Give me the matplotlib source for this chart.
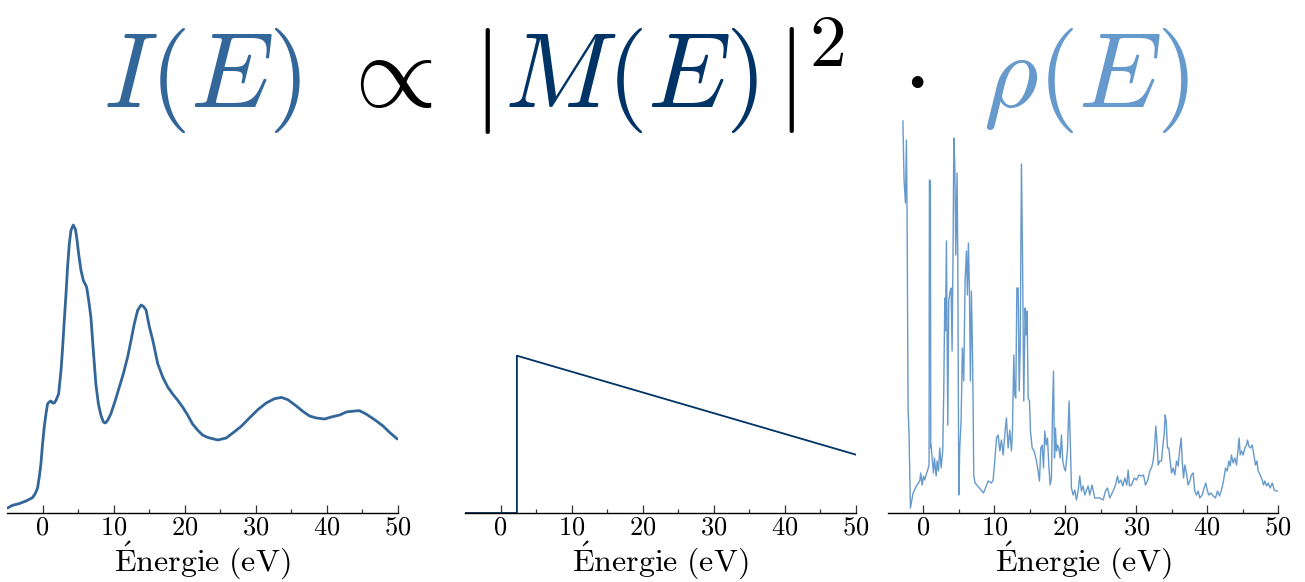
import matplotlib
matplotlib.use("Agg")
import matplotlib.pyplot as plt

plt.rcParams['font.family'] = 'serif'
plt.rcParams['font.serif'] = ['cmr10']
plt.rcParams['mathtext.fontset'] = 'cm'
plt.rcParams['axes.formatter.use_mathtext'] = True

# ---- data (arbitrary units) ----
E_I = [-4.93, -4.22, -3.28, -2.33, -1.4, -1.03, -0.7, -0.46, -0.23, 0.0, 0.24, 0.48, 0.7,
       0.94, 1.18, 1.42, 1.65, 1.89, 2.26, 2.6, 2.8, 3.06, 3.3, 3.52, 3.76, 4.0, 4.32,
       4.61, 4.8, 5.08, 5.4, 5.73, 6.2, 6.49, 6.8, 7.14, 7.5, 7.85, 8.2, 8.55, 8.83,
       9.16, 9.6, 10.24, 10.8, 11.37, 11.97, 12.45, 12.9, 13.38, 13.86, 14.18, 14.56,
       15.03, 15.5, 16.2, 16.9, 17.61, 18.3, 19.02, 19.7, 20.43, 21.1, 21.84, 22.5,
       23.25, 24.65, 25.83, 26.76, 27.94, 29.1, 30.28, 31.46, 32.63, 33.6, 34.5, 35.7,
       36.62, 37.56, 38.5, 39.7, 40.61, 41.8, 42.72, 43.9, 44.6, 45.5, 46.71, 47.9,
       48.82, 49.9]
I_vals = [5, 7.7, 9.4, 12, 15.4, 19.4, 25, 36, 49, 69, 86, 99, 109,
          111, 112, 110, 110, 112.7, 119, 142.7, 163, 192.7, 219, 246, 269, 282.7, 288,
          284, 276, 259, 243, 232.7, 226, 212.7, 196, 162.7, 129, 109.4, 98, 91, 90,
          92.7, 99, 112.7, 126, 139.4, 156, 172.7, 189, 202.7, 208, 206.7, 203,
          186, 173, 149.4, 136, 126, 119, 112.7, 106, 97.7, 89, 82.7, 78,
          75.5, 73, 75, 80, 86.6, 95, 103.3, 110, 114.3, 115.6, 113.3, 107,
          101.6, 97, 95, 94, 96, 98, 101, 102, 102.3, 99, 93.3, 87,
          80.6, 74]

E_M = [-5, 2.3, 2.3, 50]
M_vals = [0, 0, 157.3, 58.3]

E_rho = [-2.9, -2.73, -2.54, -2.40, -2.31, -2.17, -2.03, -1.84, -1.46, -0.99, -0.52, -0.38,
         -0.19, 0.0, 0.18, 0.37, 0.56, 0.79, 0.84, 0.98, 1.03, 1.08, 1.22, 1.41, 1.55,
         1.79, 1.93, 2.11, 2.30, 2.49, 2.72, 2.87, 3.01, 3.10, 3.24, 3.43, 3.57, 3.76,
         3.90, 4.04, 4.18, 4.28, 4.42, 4.56, 4.74, 4.84, 4.98, 5.12, 5.31, 5.49, 5.68,
         5.87, 6.06, 6.20, 6.34, 6.48, 6.62, 6.76, 6.90, 7.00, 7.09, 7.28, 7.89, 8.46,
         8.65, 9.12, 9.59, 9.82, 10.06, 10.3, 10.53, 10.77, 11.0, 11.24, 11.47, 11.7,
         11.94, 12.17, 12.41, 12.55, 12.74, 12.88, 13.02, 13.17, 13.35, 13.5, 13.64,
         13.73, 13.82, 13.96, 14.15, 14.34, 14.48, 14.62, 14.76, 14.95, 15.09, 15.33,
         15.61, 15.94, 16.17, 16.36, 16.55, 16.74, 16.93, 17.11, 17.3, 17.49, 17.68,
         17.86, 18.05, 18.2, 18.34, 18.48, 18.62, 18.76, 18.9, 19.09, 19.28, 19.46,
         19.65, 19.84, 20.02, 20.3, 20.54, 20.73, 20.87, 21.1, 21.34, 21.57, 21.81,
         22.04, 22.28, 22.51, 22.75,
         23.22, 23.45, 23.78, 24.16, 24.87, 25.34, 25.67, 25.95, 26.28, 26.75, 27.08,
         27.36, 27.55, 27.83, 28.12, 28.4, 28.68, 28.87, 29.06, 29.35, 29.72, 30.04,
         30.37, 30.75, 31.03, 31.31, 31.6, 31.92, 32.16, 32.39, 32.58, 32.77, 32.96,
         33.1, 33.33, 33.57, 33.8, 33.94, 34.09, 34.23, 34.41, 34.6, 34.79, 34.98,
         35.22, 35.45, 35.69, 35.92, 36.16, 36.35, 36.49, 36.68,
         36.86, 37.09, 37.32, 37.56, 37.79, 38.03, 38.26, 38.5, 38.74, 38.97, 39.3,
         39.58, 39.82, 40.05, 40.24, 40.53, 40.86, 41.18, 41.47, 41.75, 42.03, 42.31,
         42.6, 42.83, 43.07, 43.26, 43.44, 43.68, 43.91, 44.15, 44.38, 44.52, 44.67,
         44.85, 45.09, 45.32, 45.56, 45.7, 45.89, 46.13, 46.36, 46.6, 46.83, 47.02,
         47.21, 47.49, 47.77, 47.96, 48.15, 48.39, 48.62, 48.9, 49.19, 49.47, 49.75,
         50.0]
rho_vals = [392, 332, 310, 373, 298, 105, 78, 5, 20, 27, 32, 40,
            28, 37, 33, 38, 42, 48, 333, 332, 65, 68, 55, 40, 55,
            37, 52, 42, 65, 45, 62, 125, 215, 182, 272, 88, 212, 222,
            225, 162, 265, 375, 348, 258, 340, 258, 18, 65, 92, 165, 132,
            232, 262, 218, 270, 225, 132, 222, 168, 112, 38, 30, 25, 20,
            23, 32, 30, 33, 52, 75, 78, 62, 73, 58, 78, 95,
            65, 83, 62, 82, 158, 118, 115, 225, 225, 122, 165,
            265, 349, 265, 112, 205, 178, 202, 115, 112, 82, 65,
            62, 52, 42, 32, 65, 68, 45, 82, 68, 75, 48,
            28, 35, 102, 142, 55, 85, 62, 68, 65, 55, 78,
            52, 45, 42, 62, 112, 65, 25, 18, 23, 13, 22,
            37, 22, 27, 18,
            27, 18, 28, 15, 15, 13, 22, 25, 15, 22, 28,
            37, 30, 33, 27, 35, 28, 43, 27, 28, 35, 33,
            38, 37, 38, 28, 32, 42, 45, 52, 65, 87, 68,
            48, 52, 52, 70, 78, 98, 92, 65, 65, 52, 40,
            45, 38, 52, 47, 65, 75, 52, 35,
            48, 40, 28, 32, 38, 40, 22, 18, 22, 15, 18,
            25, 30, 22, 18, 20, 17, 15, 22, 17, 23, 32,
            45, 42, 52, 47, 58, 50, 55, 48, 65, 75, 58,
            62, 58, 65, 68, 73, 67, 65, 68, 58, 48, 52,
            42, 38, 33, 28, 32, 27, 30, 25, 30, 23, 22,
            22]

xticks = [0, 10, 20, 30, 40, 50]
minor_ticks = [5, 15, 25, 35, 45]
xlabel = r'$\mathrm{\acute{E}nergie\ (eV)}$'

C_I = '#336699'
C_M = '#003366'
C_R = '#6699cc'

W, H = 1305, 582
fig = plt.figure(figsize=(W / 100, H / 100), dpi=100)

def px_axes(x0, x1, y_top, y_bot):
    return fig.add_axes([x0 / W, 1 - y_bot / H, (x1 - x0) / W, (y_bot - y_top) / H])

axes = [px_axes(7, 398, 120, 513), px_axes(465, 856, 120, 513), px_axes(888, 1278, 120, 513)]

axes[0].plot(E_I, I_vals, color=C_I, lw=2.0, solid_capstyle='round', solid_joinstyle='round')
axes[1].plot(E_M, M_vals, color=C_M, lw=1.3)
axes[2].plot(E_rho, rho_vals, color=C_R, lw=1.0)

for ax in axes:
    ax.set_xlim(-5, 50)
    ax.set_ylim(0, 393)
    for s in ['left', 'right', 'top']:
        ax.spines[s].set_visible(False)
    ax.spines['bottom'].set_linewidth(1.0)
    ax.set_yticks([])
    ax.set_xticks(xticks)
    ax.set_xticks(minor_ticks, minor=True)
    ax.tick_params(axis='x', which='major', direction='in', length=6, width=0.9,
                   color='#333333', labelsize=19, pad=2)
    ax.tick_params(axis='x', which='minor', direction='in', length=3, width=0.9,
                   color='#333333')
    ax.set_xlabel(xlabel, fontsize=23, labelpad=0)
    ax.patch.set_alpha(0)

# title equation pieces
fs = 76
yb = 1 - 107 / H
def piece(x, s, color, ha='left'):
    fig.text(x / W, yb, s, color=color, fontsize=fs, ha=ha, va='baseline')

piece(103, r'$I(E)$', C_I)
piece(384, r'$\propto$', 'black', ha='center')
piece(472, r'$|$', 'black')
piece(504, r'$M(E)$', C_M)
piece(776, r'$|^2$', 'black')
piece(913, r'$\cdot$', 'black', ha='center')
piece(983, r'$\rho(E)$', C_R)

fig.savefig('out.png', dpi=100)
